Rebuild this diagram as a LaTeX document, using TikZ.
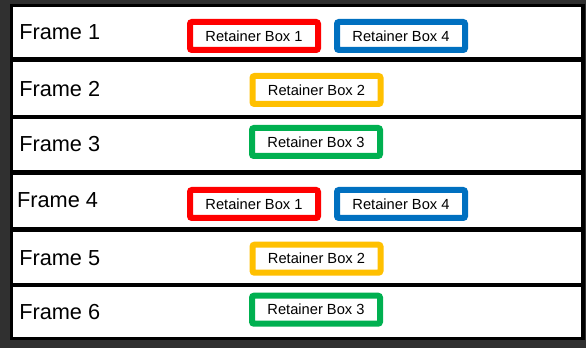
\documentclass[tikz,border=0pt]{standalone}
\usepackage{fontspec}
\setmainfont{Liberation Sans}
\usetikzlibrary{fit}
\definecolor{bgdark}{RGB}{48,48,48}
\definecolor{rbred}{RGB}{255,0,0}
\definecolor{rbblue}{RGB}{0,112,192}
\definecolor{rbyellow}{RGB}{255,192,0}
\definecolor{rbgreen}{RGB}{0,176,80}
\tikzset{
  framebox/.style={fill=white, inner sep=0pt, outer sep=0pt},
  framelabel/.style={anchor=west, inner sep=0pt, font=\fontsize{16.3pt}{19pt}\selectfont, text=black},
  retainer/.style={draw=#1, line width=4.5pt, fill=white, rounded corners=1.5pt,
    minimum width=96pt, minimum height=21pt, inner sep=0pt,
    font=\fontsize{11pt}{13pt}\selectfont, text=black}
}
\begin{document}
\begin{tikzpicture}[x=0.75pt, y=-0.75pt]
\useasboundingbox (0,0) rectangle (586,348);
\fill[bgdark] (0,0) rectangle (586,348);
\fill[black] (10,4) rectangle (584.5,340.5);
\node[framebox, fit={(13,7) (581,57)}] (frame1) {};
\node[framebox, fit={(13,62) (581,115)}] (frame2) {};
\node[framebox, fit={(13,119) (581,170)}] (frame3) {};
\node[framebox, fit={(13,175) (581,227)}] (frame4) {};
\node[framebox, fit={(13,232) (581,283)}] (frame5) {};
\node[framebox, fit={(13,287) (581,337)}] (frame6) {};
\node[framelabel] (lab1) at (19,32) {Frame 1};
\node[framelabel] (lab2) at (19,88.7) {Frame 2};
\node[framelabel] (lab3) at (19,143.8) {Frame 3};
\node[framelabel] (lab4) at (16.8,200) {Frame 4};
\node[framelabel] (lab5) at (19,258) {Frame 5};
\node[framelabel] (lab6) at (19,312.5) {Frame 6};
\node[retainer=rbred] (r1a) at (254,36) {Retainer Box 1};
\node[retainer=rbblue] (r4a) at (401,36) {Retainer Box 4};
\node[retainer=rbyellow] (r2a) at (316.5,90) {Retainer Box 2};
\node[retainer=rbgreen] (r3a) at (316,142) {Retainer Box 3};
\node[retainer=rbred] (r1b) at (254,204) {Retainer Box 1};
\node[retainer=rbblue] (r4b) at (401,204) {Retainer Box 4};
\node[retainer=rbyellow] (r2b) at (316.5,258.7) {Retainer Box 2};
\node[retainer=rbgreen] (r3b) at (316,309.7) {Retainer Box 3};
\end{tikzpicture}
\end{document}
